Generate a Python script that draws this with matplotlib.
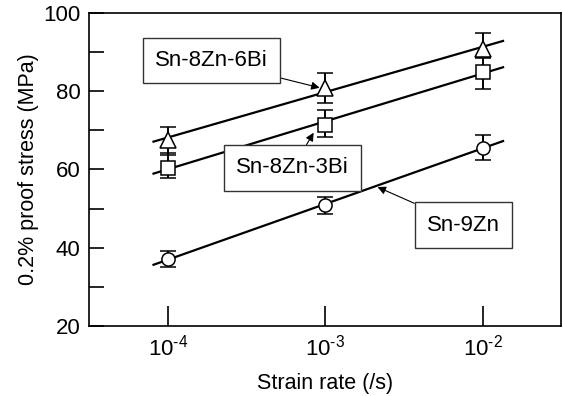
import numpy as np
import matplotlib.pyplot as plt
from matplotlib.ticker import FixedLocator, MultipleLocator, NullLocator

plt.rcParams['font.family'] = ['Liberation Sans', 'DejaVu Sans']
plt.rcParams['mathtext.fontset'] = 'custom'
plt.rcParams['mathtext.rm'] = 'Liberation Sans'
plt.rcParams['mathtext.it'] = 'Liberation Sans'

# strain rates (/s)
rate = [1e-4, 1e-3, 1e-2]

# 0.2% proof stress (MPa) with lower / upper error bounds
sn9zn = [37.0, 51.0, 65.5]
sn9zn_lo = [35.0, 48.6, 62.5]
sn9zn_hi = [39.2, 53.0, 68.8]

sn8zn3bi = [60.5, 71.4, 85.0]
sn8zn3bi_lo = [57.8, 68.3, 80.6]
sn8zn3bi_hi = [64.3, 75.2, 88.5]

sn8zn6bi = [67.6, 80.9, 90.8]
sn8zn6bi_lo = [63.7, 77.0, 88.8]
sn8zn6bi_hi = [70.9, 84.7, 95.0]

xtick_vals = [1e-4, 1e-3, 1e-2]
xtick_labels = ['$10^{\\text{-4}}$', '$10^{\\text{-3}}$', '$10^{\\text{-2}}$']

fig = plt.figure(figsize=(5.63, 3.96), dpi=100)
ax = fig.add_axes([0.158, 0.177, 0.839, 0.790])

series = [
    (sn9zn, sn9zn_lo, sn9zn_hi, 'o', 9.5),
    (sn8zn3bi, sn8zn3bi_lo, sn8zn3bi_hi, 's', 9.5),
    (sn8zn6bi, sn8zn6bi_lo, sn8zn6bi_hi, '^', 12),
]

logx = np.log10(rate)
xfit = np.linspace(-4.09, -1.87, 10)
for y, lo, hi, mk, ms in series:
    y = np.array(y)
    k, b = np.polyfit(logx, y, 1)
    ax.plot(10 ** xfit, k * xfit + b, color='black', lw=1.6, zorder=2)
    yerr = [y - np.array(lo), np.array(hi) - y]
    ax.errorbar(rate, y, yerr=yerr, fmt=mk, ms=ms, mfc='white', mec='black',
                mew=1.1, ecolor='black', elinewidth=1.4, capsize=5.5,
                capthick=1.4, zorder=3)

ax.set_xscale('log')
ax.set_xlim(10 ** -4.5, 10 ** -1.5)
ax.set_ylim(20, 100)

ax.xaxis.set_major_locator(FixedLocator(xtick_vals))
ax.set_xticklabels(xtick_labels)
ax.xaxis.set_minor_locator(NullLocator())
ax.yaxis.set_major_locator(MultipleLocator(20))
ax.yaxis.set_minor_locator(MultipleLocator(10))

ax.tick_params(axis='x', which='major', direction='in', length=14.5, width=1.2,
               labelsize=16, pad=6)
ax.tick_params(axis='y', which='both', direction='in', length=11, width=1.2,
               labelsize=16, pad=6)

for s in ax.spines.values():
    s.set_linewidth(1.2)

ax.set_xlabel('Strain rate (/s)', fontsize=15.5, labelpad=9)
ax.set_ylabel('0.2% proof stress (MPa)', fontsize=15.5, labelpad=3)

box = dict(boxstyle='square,pad=0.55', fc='white', ec='#333333', lw=1.0)
arrow = dict(arrowstyle='-|>', color='black', lw=0.8, mutation_scale=12,
             shrinkA=0, shrinkB=0)

ax.annotate('Sn-8Zn-6Bi', xy=(10 ** -3.035, 80.9), xytext=(10 ** -3.72, 87.8),
            ha='center', va='center', fontsize=16, bbox=box, arrowprops=arrow,
            zorder=4)
ax.annotate('Sn-8Zn-3Bi', xy=(10 ** -3.073, 69.4), xytext=(10 ** -3.206, 60.4),
            ha='center', va='center', fontsize=16, bbox=box, arrowprops=arrow,
            zorder=4)
ax.annotate('Sn-9Zn', xy=(10 ** -2.667, 55.5), xytext=(10 ** -2.121, 45.8),
            ha='center', va='center', fontsize=16, bbox=box, arrowprops=arrow,
            zorder=4)

fig.savefig('out.png', dpi=100)
